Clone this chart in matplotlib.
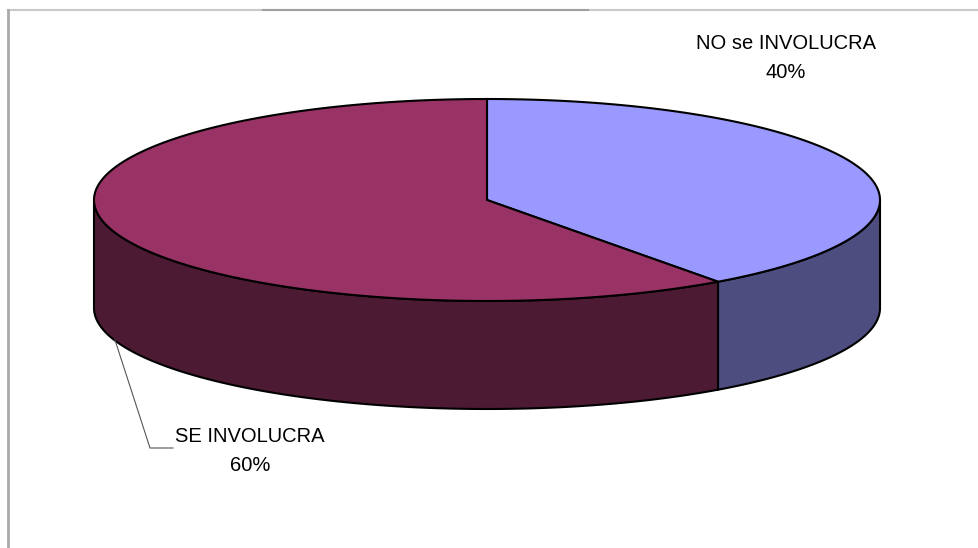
import numpy as np
import matplotlib.pyplot as plt
from matplotlib.patches import Polygon

labels = ['NO se INVOLUCRA', 'SE INVOLUCRA']
values = [40, 60]
top_colors = ['#9999ff', '#993366']
side_colors = ['#4d4d80', '#4d1a33']

# geometry of the 3d pie (pixels)
cx, cy = 487, 200
rx, ry = 393, 101
depth = 108

fig = plt.figure(figsize=(9.79, 5.48), dpi=100)
ax = fig.add_axes([0, 0, 1, 1])
ax.set_xlim(0, 979)
ax.set_ylim(548, 0)
ax.axis('off')


def pt(a, dy=0):
    return cx + rx * np.cos(a), cy - ry * np.sin(a) + dy


# slices go clockwise from 12 o'clock
total = sum(values)
start = np.pi / 2
angles = []
for v in values:
    end = start - 2 * np.pi * v / total
    angles.append((start, end))
    start = end

# side walls (only the front half, angles between -pi and 0)
for (a0, a1), col in zip(angles, side_colors):
    lo, hi = min(a0, a1), max(a0, a1)
    segs = []
    for shift in (0, -2 * np.pi, 2 * np.pi):
        s, e = max(lo + shift, -np.pi), min(hi + shift, 0)
        if e > s:
            segs.append((s, e))
    for s, e in segs:
        t = np.linspace(s, e, 100)
        xs, ys = pt(t)
        xb, yb = pt(t[::-1], depth)
        poly = np.column_stack([np.r_[xs, xb], np.r_[ys, yb]])
        ax.add_patch(Polygon(poly, closed=True, facecolor=col,
                             edgecolor='black', linewidth=1.5, zorder=1))

# top faces
for (a0, a1), col in zip(angles, top_colors):
    t = np.linspace(a0, a1, 200)
    xs, ys = pt(t)
    poly = np.column_stack([np.r_[cx, xs], np.r_[cy, ys]])
    ax.add_patch(Polygon(poly, closed=True, facecolor=col,
                         edgecolor='black', linewidth=1.5, zorder=2))

# labels
font = dict(family='Liberation Sans', fontsize=14.5, color='black', ha='center')
ax.text(786, 58, f'{labels[0]}\n{values[0]}%', va='center',
        linespacing=1.65, **font)
ax.text(250, 451, f'{labels[1]}\n{values[1]}%', va='center',
        linespacing=1.65, **font)
ax.plot([115, 150, 173], [340, 448, 448], color='#555555', linewidth=0.8, zorder=3)

# frame of the chart area
ax.plot([8, 979], [10, 10], color='#c8c8c8', linewidth=1.5, zorder=0)
ax.plot([263, 588], [10, 10], color='#a0a0a0', linewidth=1.5, zorder=0)
ax.plot([8, 8], [10, 548], color='#aaaaaa', linewidth=2, zorder=0)

fig.savefig('out.png', dpi=100)
